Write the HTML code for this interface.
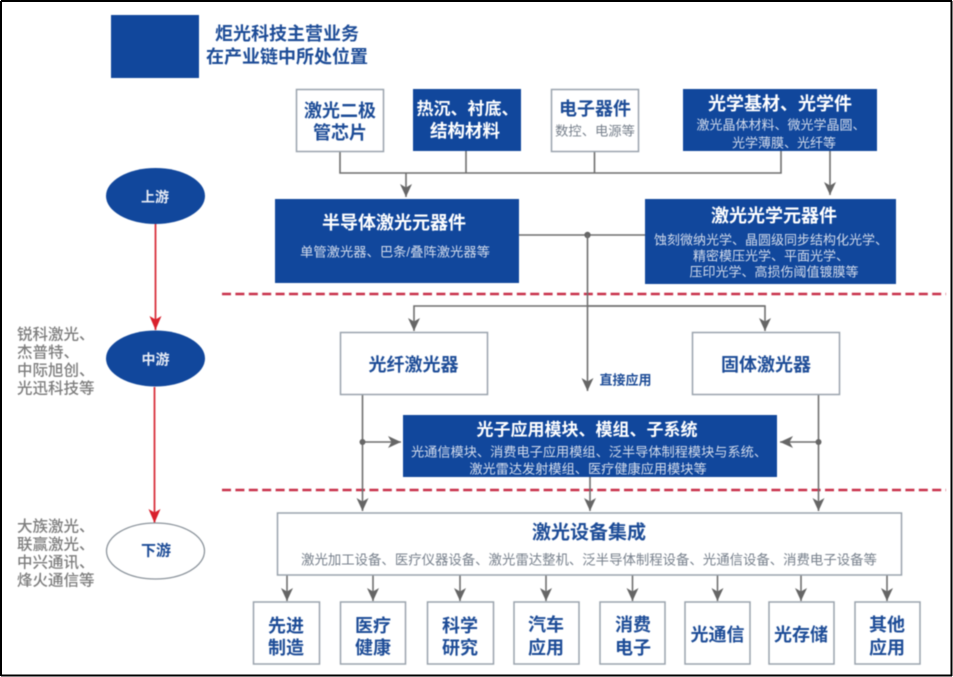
<!DOCTYPE html>
<html lang="zh">
<head>
<meta charset="utf-8">
<title>炬光科技主营业务在产业链中所处位置</title>
<style>
html,body{margin:0;padding:0;background:#fff;width:953px;height:677px;overflow:hidden}
svg{display:block;position:absolute;left:0;top:0}
text{font-family:"Liberation Sans","Noto Sans CJK SC",sans-serif;text-anchor:middle;dominant-baseline:central;transform:translateY(1.2px)}
.t{font-size:18px;font-weight:700;fill:#1d4c97}
.w{font-size:18px;font-weight:700;fill:#fff}
.s{font-size:13px;fill:#d3dcec}
.g{font-size:13.3px;fill:#77808c}
.l{font-size:15.5px;fill:#7d7d7d;text-anchor:start;font-weight:500}
.b{fill:#11479c}
.o{fill:#fff;stroke:#9aa3ad;stroke-width:1.5}
.c{fill:none;stroke:#6f6f6f;stroke-width:1.6}
.d{fill:none;stroke:#c8304a;stroke-width:2.4;stroke-dasharray:9 4.4}
.r{fill:none;stroke:#d8303c;stroke-width:1.8}
</style>
</head>
<body>
<svg width="953" height="677" viewBox="0 0 953 677" xmlns="http://www.w3.org/2000/svg">
<defs>
<marker id="a" markerUnits="userSpaceOnUse" markerWidth="14" markerHeight="14" refX="13" refY="6" orient="auto"><path d="M0,0 L13,6 L0,12 L3.5,6Z" fill="#666"/></marker>
<marker id="h" markerUnits="userSpaceOnUse" markerWidth="16" markerHeight="14" refX="14" refY="6" orient="auto"><path d="M0,0 L14,6 L0,12 L3.5,6Z" fill="#d9202c"/></marker>
</defs>
<g style="filter:blur(.6px)">
<rect class="b" x="111" y="15" width="88" height="63"/>
<text class="t" x="287" y="33">炬光科技主营业务</text>
<text class="t" x="287" y="56">在产业链中所处位置</text>

<path class="d" d="M222 294H946M222 490H946"/>

<path class="c" d="M340 151V173H781V151M466 151V173M594.5 151V173"/>
<path class="c" marker-end="url(#a)" d="M406 173V197"/>
<path class="c" marker-end="url(#a)" d="M830 151V195"/>
<path class="c" d="M519 235H645"/>
<circle cx="587.5" cy="235" r="3.2" fill="#666"/>
<path class="c" marker-end="url(#a)" d="M587.5 235V391"/>
<path class="c" marker-end="url(#a)" d="M765 306H414V331"/>
<path class="c" marker-end="url(#a)" d="M587 306H765V331"/>
<path class="c" marker-end="url(#a)" d="M362.5 395V511"/>
<path class="c" marker-end="url(#a)" d="M818.5 395V511"/>
<path class="c" marker-end="url(#a)" d="M590 477V511"/>
<path class="c" marker-end="url(#a)" d="M362.5 442H401"/>
<path class="c" marker-end="url(#a)" d="M818.5 442H780"/>
<circle cx="362.5" cy="442" r="3" fill="#666"/>
<circle cx="818.5" cy="442" r="3" fill="#666"/>
<g class="c">
<path marker-end="url(#a)" d="M287 575V601"/>
<path marker-end="url(#a)" d="M373 575V601"/>
<path marker-end="url(#a)" d="M460 575V601"/>
<path marker-end="url(#a)" d="M546 575V601"/>
<path marker-end="url(#a)" d="M632.5 575V601"/>
<path marker-end="url(#a)" d="M717.5 575V601"/>
<path marker-end="url(#a)" d="M801 575V601"/>
<path marker-end="url(#a)" d="M887 575V601"/>
</g>
<path class="r" marker-end="url(#h)" d="M155.5 224V330"/>
<path class="r" marker-end="url(#h)" d="M154.5 387V523"/>

<rect class="o" x="296.5" y="89.5" width="87" height="62"/>
<text class="t" x="340" y="110">激光二极</text>
<text class="t" x="340" y="132">管芯片</text>
<rect class="b" x="413" y="89" width="108" height="62"/>
<text class="w" x="467.5" y="108" style="font-size:17px">热沉、衬底、</text>
<text class="w" x="465" y="130" style="font-size:17.5px">结构材料</text>
<rect class="o" x="551.5" y="89.5" width="87" height="62"/>
<text class="t" x="595" y="108">电子器件</text>
<text class="g" x="595" y="130">数控、电源等</text>
<rect class="b" x="683" y="89" width="194" height="62"/>
<text class="w" x="780" y="103">光学基材、光学件</text>
<text class="s" x="781" y="124">激光晶体材料、微光学晶圆、</text>
<text class="s" x="784" y="142">光学薄膜、光纤等</text>

<rect class="b" x="275" y="199" width="244" height="84"/>
<text class="w" x="394" y="222">半导体激光元器件</text>
<text class="s" x="395" y="251" style="font-size:13.3px">单管激光器、巴条/叠阵激光器等</text>
<rect class="b" x="645" y="199" width="251" height="85"/>
<text class="w" x="774" y="215">激光光学元器件</text>
<text class="s" x="771" y="239">蚀刻微纳光学、晶圆级同步结构化光学、</text>
<text class="s" x="771" y="255">精密模压光学、平面光学、</text>
<text class="s" x="774" y="271">压印光学、高损伤阈值镀膜等</text>

<rect class="o" x="340.5" y="332.5" width="147" height="62"/>
<text class="t" x="413.5" y="364">光纤激光器</text>
<rect class="o" x="692.5" y="332.5" width="147" height="62"/>
<text class="t" x="766" y="364">固体激光器</text>
<text class="t" x="625.5" y="379" style="font-size:13px">直接应用</text>

<rect class="b" x="403" y="415" width="374" height="62"/>
<text class="w" x="587" y="429" style="font-size:17px">光子应用模块、模组、子系统</text>
<text class="s" x="589" y="451" style="font-size:13.2px">光通信模块、消费电子应用模组、泛半导体制程模块与系统、</text>
<text class="s" x="588" y="468" style="font-size:13.2px">激光雷达发射模组、医疗健康应用模块等</text>

<rect class="o" x="277.5" y="513" width="624" height="62"/>
<text class="t" x="589" y="532" style="font-size:19px">激光设备集成</text>
<text class="g" x="589" y="559" style="font-size:13.4px">激光加工设备、医疗仪器设备、激光雷达整机、泛半导体制程设备、光通信设备、消费电子设备等</text>

<rect class="o" x="253.5" y="602" width="66" height="62"/>
<text class="t" x="286" y="625">先进</text><text class="t" x="286" y="647">制造</text>
<rect class="o" x="340.5" y="602" width="65" height="62"/>
<text class="t" x="373" y="625">医疗</text><text class="t" x="373" y="647">健康</text>
<rect class="o" x="427.5" y="602" width="66" height="62"/>
<text class="t" x="460" y="625">科学</text><text class="t" x="460" y="647">研究</text>
<rect class="o" x="514" y="602" width="65" height="62"/>
<text class="t" x="546" y="624">汽车</text><text class="t" x="546" y="647">应用</text>
<rect class="o" x="600" y="602" width="65" height="62"/>
<text class="t" x="633" y="624">消费</text><text class="t" x="633" y="647">电子</text>
<rect class="o" x="685" y="602" width="65" height="62"/>
<text class="t" x="717.5" y="634">光通信</text>
<rect class="o" x="769" y="602" width="65" height="62"/>
<text class="t" x="801" y="634">光存储</text>
<rect class="o" x="855" y="602" width="65" height="62"/>
<text class="t" x="887" y="624">其他</text><text class="t" x="887" y="647">应用</text>

<ellipse class="b" cx="155.5" cy="196" rx="49.5" ry="28"/>
<text x="155" y="196" style="font-size:14px;font-weight:700;fill:#e6ebf5">上游</text>
<ellipse class="b" cx="155.5" cy="358.5" rx="49.5" ry="28"/>
<text x="155.5" y="358.5" style="font-size:14px;font-weight:700;fill:#e6ebf5">中游</text>
<ellipse cx="155.5" cy="551" rx="49" ry="28" fill="#fff" stroke="#8c949c" stroke-width="1.3"/>
<text x="156" y="550" style="font-size:15px;font-weight:700;fill:#1d4c97">下游</text>

<text class="l" x="17" y="334">锐科激光、</text>
<text class="l" x="17" y="352">杰普特、</text>
<text class="l" x="17" y="370">中际旭创、</text>
<text class="l" x="17" y="388">光迅科技等</text>
<text class="l" x="17" y="526">大族激光、</text>
<text class="l" x="17" y="544">联赢激光、</text>
<text class="l" x="17" y="562">中兴通讯、</text>
<text class="l" x="17" y="580">烽火通信等</text>
</g>
<path d="M1 1H952M1 1V676M951.5 1V676M1 675.5H952" fill="none" stroke="#000" stroke-width="2"/>
</svg>
</body>
</html>
